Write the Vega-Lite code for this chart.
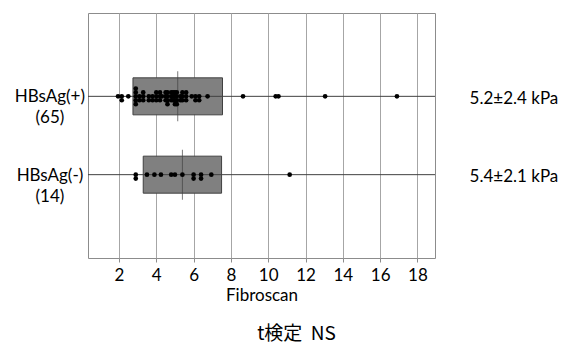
{
  "$schema": "https://vega.github.io/schema/vega-lite/v6.json",
  "width": 347,
  "height": 245,
  "autosize": "none",
  "padding": {"left": 88, "top": 13, "right": 144, "bottom": 89},
  "background": "white",
  "config": {"view": {"stroke": "#8c8c8c", "strokeWidth": 1}, "font": "Lato"},
  "title": {"text": "t検定\u00a0\u00a0NS", "orient": "bottom", "font": "Noto Sans CJK JP", "fontSize": 19, "fontWeight": "normal", "color": "#000000", "dx": 35, "offset": 22},
  "datasets": {
    "summary": [
      {"group": "HBsAg(+)", "label": "HBsAg(+)\n(65)", "mean": 5.15, "lo": 2.75, "hi": 7.55, "stat": "5.2±2.4 kPa"},
      {"group": "HBsAg(-)", "label": "HBsAg(-)\n(14)", "mean": 5.4, "lo": 3.3, "hi": 7.5, "stat": "5.4±2.1 kPa"}
    ],
    "points": [
      {"group": "HBsAg(+)", "value": 1.95},
      {"group": "HBsAg(+)", "value": 2.15},
      {"group": "HBsAg(+)", "value": 2.15},
      {"group": "HBsAg(+)", "value": 2.5},
      {"group": "HBsAg(+)", "value": 2.9},
      {"group": "HBsAg(+)", "value": 2.9},
      {"group": "HBsAg(+)", "value": 2.9},
      {"group": "HBsAg(+)", "value": 2.9},
      {"group": "HBsAg(+)", "value": 2.9},
      {"group": "HBsAg(+)", "value": 3.1},
      {"group": "HBsAg(+)", "value": 3.1},
      {"group": "HBsAg(+)", "value": 3.3},
      {"group": "HBsAg(+)", "value": 3.3},
      {"group": "HBsAg(+)", "value": 3.3},
      {"group": "HBsAg(+)", "value": 3.6},
      {"group": "HBsAg(+)", "value": 3.6},
      {"group": "HBsAg(+)", "value": 3.8},
      {"group": "HBsAg(+)", "value": 3.8},
      {"group": "HBsAg(+)", "value": 4.0},
      {"group": "HBsAg(+)", "value": 4.0},
      {"group": "HBsAg(+)", "value": 4.0},
      {"group": "HBsAg(+)", "value": 4.2},
      {"group": "HBsAg(+)", "value": 4.2},
      {"group": "HBsAg(+)", "value": 4.2},
      {"group": "HBsAg(+)", "value": 4.3},
      {"group": "HBsAg(+)", "value": 4.5},
      {"group": "HBsAg(+)", "value": 4.5},
      {"group": "HBsAg(+)", "value": 4.5},
      {"group": "HBsAg(+)", "value": 4.6},
      {"group": "HBsAg(+)", "value": 4.6},
      {"group": "HBsAg(+)", "value": 4.6},
      {"group": "HBsAg(+)", "value": 4.6},
      {"group": "HBsAg(+)", "value": 4.8},
      {"group": "HBsAg(+)", "value": 4.8},
      {"group": "HBsAg(+)", "value": 4.8},
      {"group": "HBsAg(+)", "value": 4.9},
      {"group": "HBsAg(+)", "value": 4.9},
      {"group": "HBsAg(+)", "value": 4.9},
      {"group": "HBsAg(+)", "value": 5.0},
      {"group": "HBsAg(+)", "value": 5.0},
      {"group": "HBsAg(+)", "value": 5.0},
      {"group": "HBsAg(+)", "value": 5.0},
      {"group": "HBsAg(+)", "value": 5.1},
      {"group": "HBsAg(+)", "value": 5.1},
      {"group": "HBsAg(+)", "value": 5.1},
      {"group": "HBsAg(+)", "value": 5.1},
      {"group": "HBsAg(+)", "value": 5.3},
      {"group": "HBsAg(+)", "value": 5.3},
      {"group": "HBsAg(+)", "value": 5.4},
      {"group": "HBsAg(+)", "value": 5.4},
      {"group": "HBsAg(+)", "value": 5.4},
      {"group": "HBsAg(+)", "value": 5.6},
      {"group": "HBsAg(+)", "value": 5.6},
      {"group": "HBsAg(+)", "value": 5.6},
      {"group": "HBsAg(+)", "value": 5.9},
      {"group": "HBsAg(+)", "value": 6.1},
      {"group": "HBsAg(+)", "value": 6.1},
      {"group": "HBsAg(+)", "value": 6.3},
      {"group": "HBsAg(+)", "value": 6.3},
      {"group": "HBsAg(+)", "value": 6.75},
      {"group": "HBsAg(+)", "value": 8.65},
      {"group": "HBsAg(+)", "value": 10.4},
      {"group": "HBsAg(+)", "value": 10.55},
      {"group": "HBsAg(+)", "value": 13.05},
      {"group": "HBsAg(+)", "value": 16.9},
      {"group": "HBsAg(-)", "value": 2.9},
      {"group": "HBsAg(-)", "value": 2.9},
      {"group": "HBsAg(-)", "value": 3.5},
      {"group": "HBsAg(-)", "value": 3.9},
      {"group": "HBsAg(-)", "value": 4.25},
      {"group": "HBsAg(-)", "value": 4.8},
      {"group": "HBsAg(-)", "value": 5.0},
      {"group": "HBsAg(-)", "value": 5.4},
      {"group": "HBsAg(-)", "value": 6.0},
      {"group": "HBsAg(-)", "value": 6.0},
      {"group": "HBsAg(-)", "value": 6.4},
      {"group": "HBsAg(-)", "value": 6.4},
      {"group": "HBsAg(-)", "value": 6.95},
      {"group": "HBsAg(-)", "value": 11.15}
    ]
  },
  "layer": [
    {
      "data": {"name": "summary"},
      "transform": [{"calculate": "datum.group === 'HBsAg(+)' ? 2 : 1", "as": "row"}],
      "mark": {"type": "bar", "fill": "#808080", "stroke": "#404040", "strokeWidth": 1, "size": 37},
      "encoding": {
        "x": {
          "field": "lo",
          "type": "quantitative",
          "scale": {"domain": [0.34, 18.94], "nice": false, "zero": false},
          "axis": {
            "values": [2, 4, 6, 8, 10, 12, 14, 16, 18],
            "grid": true,
            "gridColor": "#a6a6a6",
            "gridWidth": 1,
            "domain": false,
            "ticks": true,
            "tickColor": "#8c8c8c",
            "tickSize": 4,
            "labelFont": "Lato",
            "labelFontSize": 17,
            "labelColor": "#000000",
            "labelPadding": 5,
            "labelFlush": false,
            "title": "Fibroscan",
            "titleFont": "Lato",
            "titleFontSize": 17,
            "titleFontWeight": "normal",
            "titleColor": "#000000",
            "titlePadding": 4
          }
        },
        "x2": {"field": "hi"},
        "y": {"field": "row", "type": "quantitative", "scale": {"domain": [0, 3], "nice": false, "zero": false}, "axis": null}
      }
    },
    {
      "data": {"name": "summary"},
      "transform": [{"calculate": "datum.group === 'HBsAg(+)' ? 2 : 1", "as": "row"}],
      "mark": {"type": "rule", "color": "#404040", "strokeWidth": 1},
      "encoding": {
        "y": {"field": "row", "type": "quantitative"}
      }
    },
    {
      "data": {"name": "summary"},
      "transform": [{"calculate": "datum.group === 'HBsAg(+)' ? 2 : 1", "as": "row"}],
      "mark": {"type": "tick", "orient": "vertical", "color": "#404040", "size": 50, "thickness": 1},
      "encoding": {
        "x": {"field": "mean", "type": "quantitative"},
        "y": {"field": "row", "type": "quantitative"}
      }
    },
    {
      "data": {"name": "points"},
      "transform": [
        {"window": [{"op": "row_number", "as": "k"}], "groupby": ["group", "value"]},
        {"calculate": "(datum.group === 'HBsAg(+)' ? 2 : 1) + (datum.k % 2 === 0 ? -1 : 1) * floor(datum.k / 2) * 0.05", "as": "ypos"}
      ],
      "mark": {"type": "circle", "color": "#000000", "opacity": 1, "size": 22},
      "encoding": {
        "x": {"field": "value", "type": "quantitative"},
        "y": {"field": "ypos", "type": "quantitative"}
      }
    },
    {
      "data": {"name": "summary"},
      "transform": [{"calculate": "datum.group === 'HBsAg(+)' ? 2 : 1", "as": "row"}],
      "mark": {"type": "text", "align": "center", "baseline": "middle", "lineBreak": "\n", "lineHeight": 21, "fontSize": 17, "font": "Lato", "color": "#000000", "dy": 1},
      "encoding": {
        "x": {"datum": -1.7, "type": "quantitative"},
        "y": {"field": "row", "type": "quantitative"},
        "text": {"field": "label"}
      }
    },
    {
      "data": {"name": "summary"},
      "transform": [{"calculate": "datum.group === 'HBsAg(+)' ? 2 : 1", "as": "row"}],
      "mark": {"type": "text", "align": "center", "baseline": "middle", "fontSize": 17, "font": "Lato", "color": "#000000", "dy": 2.5},
      "encoding": {
        "x": {"datum": 23.17, "type": "quantitative"},
        "y": {"field": "row", "type": "quantitative"},
        "text": {"field": "stat"}
      }
    }
  ]
}
